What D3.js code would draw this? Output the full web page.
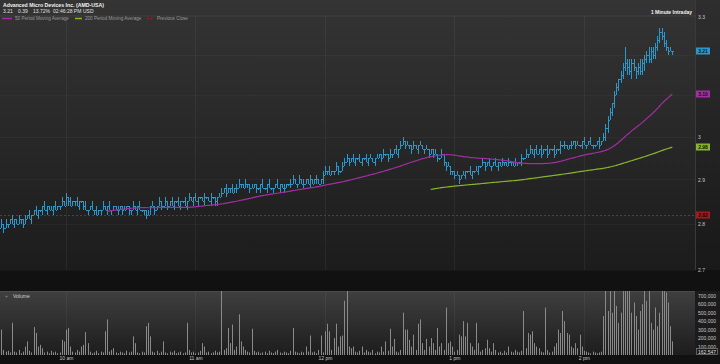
<!DOCTYPE html>
<html>
<head>
<meta charset="utf-8">
<script src="https://cdn.jsdelivr.net/npm/d3@7"></script>
<style>
body { margin: 0; background: #151515; }
svg text { font-family: Arial, "Liberation Sans", sans-serif; }
</style>
</head>
<body>
<svg width="720" height="364"></svg>
<script>
// one-minute closes in cents, 9:30 onwards
var closes = [
	280,279,280,280,281,280,281,280,281,281,
	280,281,282,281,282,283,282,283,283,284,
	283,284,283,283,284,283,284,284,285,284,
	286,285,284,285,285,284,285,285,284,283,
	283,284,283,283,282,283,283,284,283,284,
	283,283,284,283,283,284,283,283,284,283,
	283,284,283,284,283,283,283,282,282,284,
	284,283,284,285,284,284,285,284,285,284,
	285,285,284,285,285,284,285,286,285,286,
	285,286,286,285,286,286,285,286,286,285,
	286,286,287,288,287,288,288,287,288,288,
	289,289,288,289,289,288,288,289,288,288,
	289,288,288,289,288,288,288,289,288,289,
	288,288,289,289,289,290,289,289,290,289,
	289,290,289,290,289,290,290,289,290,291,
	292,292,291,292,292,293,292,292,293,294,
	295,294,295,294,295,295,294,295,295,294,
	295,295,294,295,295,296,295,296,296,295,
	296,296,297,296,297,298,299,298,298,298,
	297,298,297,298,298,297,297,297,296,297,
	296,296,295,295,296,294,293,293,292,292,
	291,291,290,291,291,292,292,291,292,292,
	292,293,293,294,293,294,293,293,294,293,
	294,293,294,294,293,294,294,293,294,294,
	294,295,295,296,296,297,296,297,296,297,
	296,297,297,296,297,297,296,297,297,298,
	298,298,297,298,298,299,298,298,298,299,
	298,298,299,298,298,298,299,298,299,300,
	302,304,306,308,310,312,314,315,317,318,
	317,316,318,317,316,317,316,318,319,320,
	319,321,320,322,324,326,325,323,322,321,
	321,321
];
var firstOpen = 279;
// cents of high above the body and low below it
var wickUp = [
	1,0,1,0,0,1,0,0,1,0, 0,1,0,1,0,0,1,0,0,0, 1,0,0,1,0,1,0,0,1,0, 1,0,1,0,0,1,0,0,0,1,
	0,0,1,0,1,0,0,1,0,0, 1,0,0,0,1,0,0,1,0,0, 0,1,0,0,1,0,0,0,1,0, 1,0,0,1,0,0,1,0,0,1,
	0,0,1,0,0,1,0,1,0,0, 1,0,0,0,1,0,0,1,0,0, 0,1,1,0,1,0,0,1,0,1, 1,0,0,1,0,0,1,0,0,0,
	0,1,0,0,1,0,0,0,1,0, 0,1,0,0,1,1,0,0,1,0, 1,0,0,1,0,0,1,0,0,1, 1,0,1,0,0,1,0,0,1,1,
	1,0,0,1,0,0,1,0,0,1, 0,1,0,0,1,0,0,1,0,0, 1,0,0,1,0,1,1,0,1,0, 0,1,0,0,1,0,0,1,0,0,
	0,1,0,0,1,0,0,1,0,0, 0,1,0,0,1,0,0,1,0,0, 1,0,0,1,0,0,1,0,0,1, 0,0,1,0,0,1,0,0,1,0,
	0,1,0,1,0,1,0,0,1,0, 1,0,0,1,0,0,1,0,0,1, 0,1,0,0,1,0,0,1,0,0, 1,0,0,1,0,0,0,1,0,1,
	1,1,1,0,1,1,0,1,1,4, 1,2,1,1,0,1,2,1,1,1, 2,1,1,1,1,1,1,1,1,0, 1,0
];
var wickDown = [
	0,1,0,1,0,0,1,0,0,1, 1,0,0,0,1,0,0,1,0,1, 0,1,0,0,1,0,0,1,0,0, 0,1,0,0,1,0,1,0,1,0,
	1,0,0,1,0,0,1,0,0,1, 0,1,0,0,1,0,1,0,0,1, 1,0,0,1,0,0,1,1,0,0, 0,1,0,0,1,0,0,1,0,0,
	1,0,0,1,0,0,1,0,0,1, 0,1,0,0,1,0,0,1,0,1, 1,0,0,0,1,0,1,0,0,1, 0,1,0,0,1,1,0,0,1,0,
	1,0,0,1,0,0,1,0,0,1, 0,1,0,0,1,0,0,1,0,0, 1,0,0,1,0,0,1,0,0,1, 0,1,0,0,1,0,1,0,0,0,
	0,1,0,0,1,0,0,1,0,0, 1,0,0,1,0,0,1,0,0,1, 0,1,0,0,1,0,0,1,0,1, 1,0,0,1,0,0,1,0,1,0,
	1,0,1,0,0,1,1,0,1,1, 1,0,1,0,0,1,0,0,1,0, 0,1,0,0,1,0,0,1,0,0, 1,0,0,1,0,0,1,0,0,1,
	0,1,0,0,1,0,0,1,0,0, 1,0,0,1,0,0,1,0,0,1, 0,1,0,0,1,0,1,0,0,1, 0,1,0,0,1,0,0,1,0,0,
	1,1,0,1,1,0,1,1,1,1, 2,1,2,1,2,1,1,1,2,1, 1,1,1,1,1,1,1,1,1,1, 0,1
];
// volume per minute, thousands
var volumes = [
	300,60,40,50,30,380,40,30,60,20,
	40,100,160,50,30,330,260,100,120,80,
	30,40,20,50,30,40,20,30,180,160,
	300,320,100,40,30,60,40,100,120,270,
	140,40,20,30,50,20,40,30,280,420,
	40,60,80,30,20,40,30,20,50,30,
	40,220,140,30,20,40,30,340,380,220,
	40,30,50,20,40,160,30,20,40,30,
	50,20,30,40,20,30,380,60,30,40,
	20,30,50,140,100,30,40,20,30,50,
	30,40,900,60,80,320,140,360,60,100,
	480,160,100,60,40,30,310,50,30,40,
	20,30,40,20,50,30,20,40,60,30,
	20,40,30,20,50,320,40,30,20,40,
	30,100,40,230,30,40,20,60,230,30,
	280,370,280,60,200,370,100,220,230,640,
	900,100,80,100,40,30,50,100,30,60,
	40,30,60,20,40,30,100,40,160,50,
	310,100,190,40,30,60,500,300,300,180,
	100,240,60,370,420,140,60,190,100,200,
	140,60,320,100,140,60,560,140,160,100,
	40,60,240,220,400,220,380,140,100,60,
	380,140,40,60,80,180,80,40,140,60,
	30,40,20,50,30,100,40,30,60,40,
	30,50,520,80,260,240,280,140,100,80,
	40,30,560,60,30,40,100,140,300,260,
	520,400,260,240,100,80,140,80,240,100,
	50,40,30,20,40,30,20,30,40,460,
	950,520,1100,500,900,580,380,500,1200,850,
	1000,800,500,620,460,300,520,600,900,640,
	1050,380,300,560,340,500,1300,880,740,620,
	340,162.547
];
var prevClose = 2.82;
var priceTicks = [2.7, 2.8, 2.9, 3, 3.3];
var gridPrices = [2.7, 2.8, 2.9, 3, 3.1, 3.2, 3.3];
var volumeTicks = [100000, 200000, 300000, 400000, 500000, 600000, 700000];
var hourTicks = [10, 11, 12, 13, 14];
var titleText = "Advanced Micro Devices Inc. (AMD-USA)";
var quoteRow = ["3.21", "0.39", "13.72%", "02:46:28 PM", "USD"];
var quoteX = [3, 18, 33, 53, 83];
var legendNames = ["50 Period Moving Average", "200 Period Moving Average", "Previous Close"];
var legendColors = ["#a32ea3", "#86b52a", "#a11c1c"];

var svg = d3.select("svg");
var plotR = 695, mainTop = 0, mainBot = 270, volTop = 291, volBot = 355;
var barColor = "#2b98cc";
var day = new Date(2016, 3, 22, 9, 30);

var bars = closes.map(function(c, i) {
	var o = i ? closes[i - 1] : firstOpen;
	return {
		t: d3.timeMinute.offset(day, i),
		o: o / 100, c: c / 100,
		h: (Math.max(o, c) + wickUp[i]) / 100,
		l: (Math.min(o, c) - wickDown[i]) / 100,
		v: volumes[i] * 1000
	};
});

function movingAvg(n) {
	return bars.slice(n - 1).map(function(b, k) {
		return {t: b.t, v: d3.mean(bars.slice(k, k + n), function(d) { return d.c; })};
	});
}
var ma50 = movingAvg(50), ma200 = movingAvg(200);

var x = d3.scaleTime()
	.domain([new Date(+day - 35000), d3.timeSecond.offset(day, 321.5 * 60)])
	.range([0, plotR]);
var y = d3.scaleLog().domain([2.6993, 3.3432]).range([mainBot, mainTop]);
var yv = d3.scaleLinear().domain([0, 756000]).range([volBot, volTop]);

// backgrounds
var defs = svg.append("defs");
var g1 = defs.append("linearGradient").attr("id", "mainBg").attr("x1", 0).attr("y1", 0).attr("x2", 0).attr("y2", 1);
g1.append("stop").attr("offset", 0).attr("stop-color", "#343434");
g1.append("stop").attr("offset", 1).attr("stop-color", "#1c1c1c");
var g2 = defs.append("linearGradient").attr("id", "volBg").attr("x1", 0).attr("y1", 0).attr("x2", 0).attr("y2", 1);
g2.append("stop").attr("offset", 0).attr("stop-color", "#3f3f3f");
g2.append("stop").attr("offset", 1).attr("stop-color", "#1d1d1d");
defs.append("clipPath").attr("id", "mainClip").append("rect")
	.attr("x", 0).attr("y", mainTop).attr("width", plotR).attr("height", mainBot - mainTop);
defs.append("clipPath").attr("id", "volClip").append("rect")
	.attr("x", 0).attr("y", volTop).attr("width", plotR).attr("height", volBot - volTop);

svg.append("rect").attr("width", 720).attr("height", 364).attr("fill", "#111");
svg.append("rect").attr("x", 0).attr("y", mainTop).attr("width", 720).attr("height", mainBot - mainTop).attr("fill", "url(#mainBg)");
svg.append("rect").attr("x", plotR).attr("y", mainTop).attr("width", 720 - plotR).attr("height", mainBot - mainTop).attr("fill", "#000").attr("opacity", 0.1);
svg.append("line").attr("x1", plotR + 0.5).attr("x2", plotR + 0.5).attr("y1", mainTop).attr("y2", mainBot).attr("stroke", "#3a3a3a");
svg.append("line").attr("x1", 0).attr("x2", plotR).attr("y1", 15.5).attr("y2", 15.5).attr("stroke", "#3a3a3a");
svg.append("rect").attr("x", 0).attr("y", volTop).attr("width", plotR).attr("height", volBot - volTop).attr("fill", "url(#volBg)");
svg.append("rect").attr("x", plotR).attr("y", volTop).attr("width", 720 - plotR).attr("height", volBot - volTop).attr("fill", "#1b1b1b");
svg.append("line").attr("x1", 0).attr("x2", plotR).attr("y1", volTop + 0.5).attr("y2", volTop + 0.5).attr("stroke", "#4a4a4a");

// grid
var hourDates = hourTicks.map(function(h) { return new Date(2016, 3, 22, h, 0); });
var grid = svg.append("g").attr("stroke", "#fff").attr("stroke-opacity", 0.05);
grid.selectAll("line.v").data(hourDates).enter().append("line")
	.attr("x1", function(d) { return Math.round(x(d)) + 0.5; })
	.attr("x2", function(d) { return Math.round(x(d)) + 0.5; })
	.attr("y1", 16).attr("y2", mainBot);
grid.selectAll("line.vv").data(hourDates).enter().append("line")
	.attr("x1", function(d) { return Math.round(x(d)) + 0.5; })
	.attr("x2", function(d) { return Math.round(x(d)) + 0.5; })
	.attr("y1", volTop + 1).attr("y2", volBot);
grid.selectAll("line.h").data(gridPrices).enter().append("line")
	.attr("x1", 0).attr("x2", plotR)
	.attr("y1", function(d) { return Math.round(y(d)) + 0.5; })
	.attr("y2", function(d) { return Math.round(y(d)) + 0.5; })
	.attr("stroke-opacity", 0.03);

// previous close
svg.append("line").attr("x1", 0).attr("x2", plotR)
	.attr("y1", Math.round(y(prevClose)) + 0.5).attr("y2", Math.round(y(prevClose)) + 0.5)
	.attr("stroke", legendColors[2]).attr("stroke-dasharray", "2,2");

// price bars: stem from low to high, 1px open tick left, 1px close tick right
var pg = svg.append("g").attr("clip-path", "url(#mainClip)").attr("fill", barColor).attr("shape-rendering", "crispEdges");
bars.forEach(function(b) {
	var px = Math.round(x(b.t));
	var top = Math.round(y(b.h)), bot = Math.max(Math.round(y(b.l)), top + 2);
	pg.append("rect").attr("x", px).attr("y", top).attr("width", 1).attr("height", bot - top);
	pg.append("rect").attr("x", px - 1).attr("y", Math.round(y(b.o))).attr("width", 1).attr("height", 1);
	pg.append("rect").attr("x", px + 1).attr("y", Math.round(y(b.c))).attr("width", 1).attr("height", 1);
});

// moving averages
var maLine = d3.line().x(function(d) { return x(d.t); }).y(function(d) { return y(d.v); }).curve(d3.curveMonotoneX);
svg.append("path").datum(ma50).attr("d", maLine).attr("fill", "none").attr("stroke", legendColors[0]).attr("stroke-width", 1.2);
svg.append("path").datum(ma200).attr("d", maLine).attr("fill", "none").attr("stroke", legendColors[1]).attr("stroke-width", 1.2);

// volume
svg.append("g").attr("clip-path", "url(#volClip)").selectAll("line").data(bars).enter().append("line")
	.attr("x1", function(d) { return Math.round(x(d.t)) + 0.5; })
	.attr("x2", function(d) { return Math.round(x(d.t)) + 0.5; })
	.attr("y1", volBot).attr("y2", function(d) { return yv(d.v); })
	.attr("stroke", "#8a8a8a").attr("stroke-width", 1);

// axes
var yAxis = svg.append("g").attr("transform", "translate(698,0)")
	.call(d3.axisRight(y).tickValues(priceTicks).tickSize(0).tickPadding(0).tickFormat(d3.format("")));
var vAxis = svg.append("g").attr("transform", "translate(698,0)")
	.call(d3.axisRight(yv).tickValues(volumeTicks).tickSize(0).tickPadding(0).tickFormat(d3.format(",")));
var xAxis = svg.append("g").attr("transform", "translate(0," + volBot + ")")
	.call(d3.axisBottom(x).tickValues(hourDates).tickSize(0).tickPadding(2)
		.tickFormat(function(d) { return d3.timeFormat("%-I %p")(d).toLowerCase(); }));
[yAxis, vAxis, xAxis].forEach(function(a) {
	a.select(".domain").remove();
	a.selectAll("text").attr("fill", "#c8c8c8").attr("font-size", 5).style("font-family", "Arial, Liberation Sans, sans-serif");
});
xAxis.selectAll("text").attr("dy", "0.6em");

// value tags
function tag(val, color, textColor) {
	var ty = Math.round(y(val));
	svg.append("rect").attr("x", 696).attr("y", ty - 3.5).attr("width", 14).attr("height", 7).attr("fill", color);
	svg.append("text").attr("x", 703).attr("y", ty + 2).attr("text-anchor", "middle")
		.attr("font-size", 5).attr("font-weight", "bold").attr("fill", textColor).text(d3.format(".2f")(val));
}
tag(prevClose, legendColors[2], "#1a0000");
tag(ma200[ma200.length - 1].v, legendColors[1], "#111");
tag(ma50[ma50.length - 1].v, legendColors[0], "#111");
tag(bars[bars.length - 1].c, barColor, "#0a1a24");

var lastV = bars[bars.length - 1].v;
svg.append("rect").attr("x", 696.5).attr("y", 348.5).attr("width", 21).attr("height", 6).attr("fill", "#1b1b1b").attr("stroke", "#8a8a8a").attr("stroke-width", 0.6);
svg.append("text").attr("x", 707).attr("y", 353.5).attr("text-anchor", "middle").attr("font-size", 5).attr("fill", "#ddd").text(d3.format(",")(Math.round(lastV)));

// header
svg.append("text").attr("x", 3).attr("y", 6.5).attr("font-size", 5.2).attr("font-weight", "bold").attr("fill", "#f2f2f2").text(titleText);
svg.selectAll("text.q").data(quoteRow).enter().append("text")
	.attr("x", function(d, i) { return quoteX[i]; }).attr("y", 13)
	.attr("font-size", 5).attr("fill", "#e0e0e0").text(function(d) { return d; });
svg.append("text").attr("x", 692).attr("y", 13.5).attr("text-anchor", "end").attr("font-size", 5).attr("font-weight", "bold").attr("fill", "#f2f2f2").text("1 Minute Intraday");

// legend
var legX = [2, 75, 147];
var leg = svg.selectAll("g.leg").data(legendNames).enter().append("g")
	.attr("transform", function(d, i) { return "translate(" + legX[i] + ",20)"; });
leg.append("line").attr("x1", 0).attr("x2", function(d, i) { return i == 0 ? 10 : 7; }).attr("y1", -1.5).attr("y2", -1.5)
	.attr("stroke", function(d, i) { return legendColors[i]; }).attr("stroke-width", 1.5)
	.attr("stroke-dasharray", function(d, i) { return i == 2 ? "2,1.5" : null; });
leg.append("text").attr("x", function(d, i) { return i == 0 ? 13 : 10; }).attr("y", 0)
	.attr("font-size", 4.6).attr("fill", "#9a9a9a").text(function(d) { return d; });

// volume label
svg.append("text").attr("x", 5).attr("y", 297.5).attr("font-size", 5).attr("fill", "#8a8a8a").text("+");
svg.append("text").attr("x", 13).attr("y", 297.5).attr("font-size", 5).attr("fill", "#d0d0d0").text("Volume");
</script>
</body>
</html>
